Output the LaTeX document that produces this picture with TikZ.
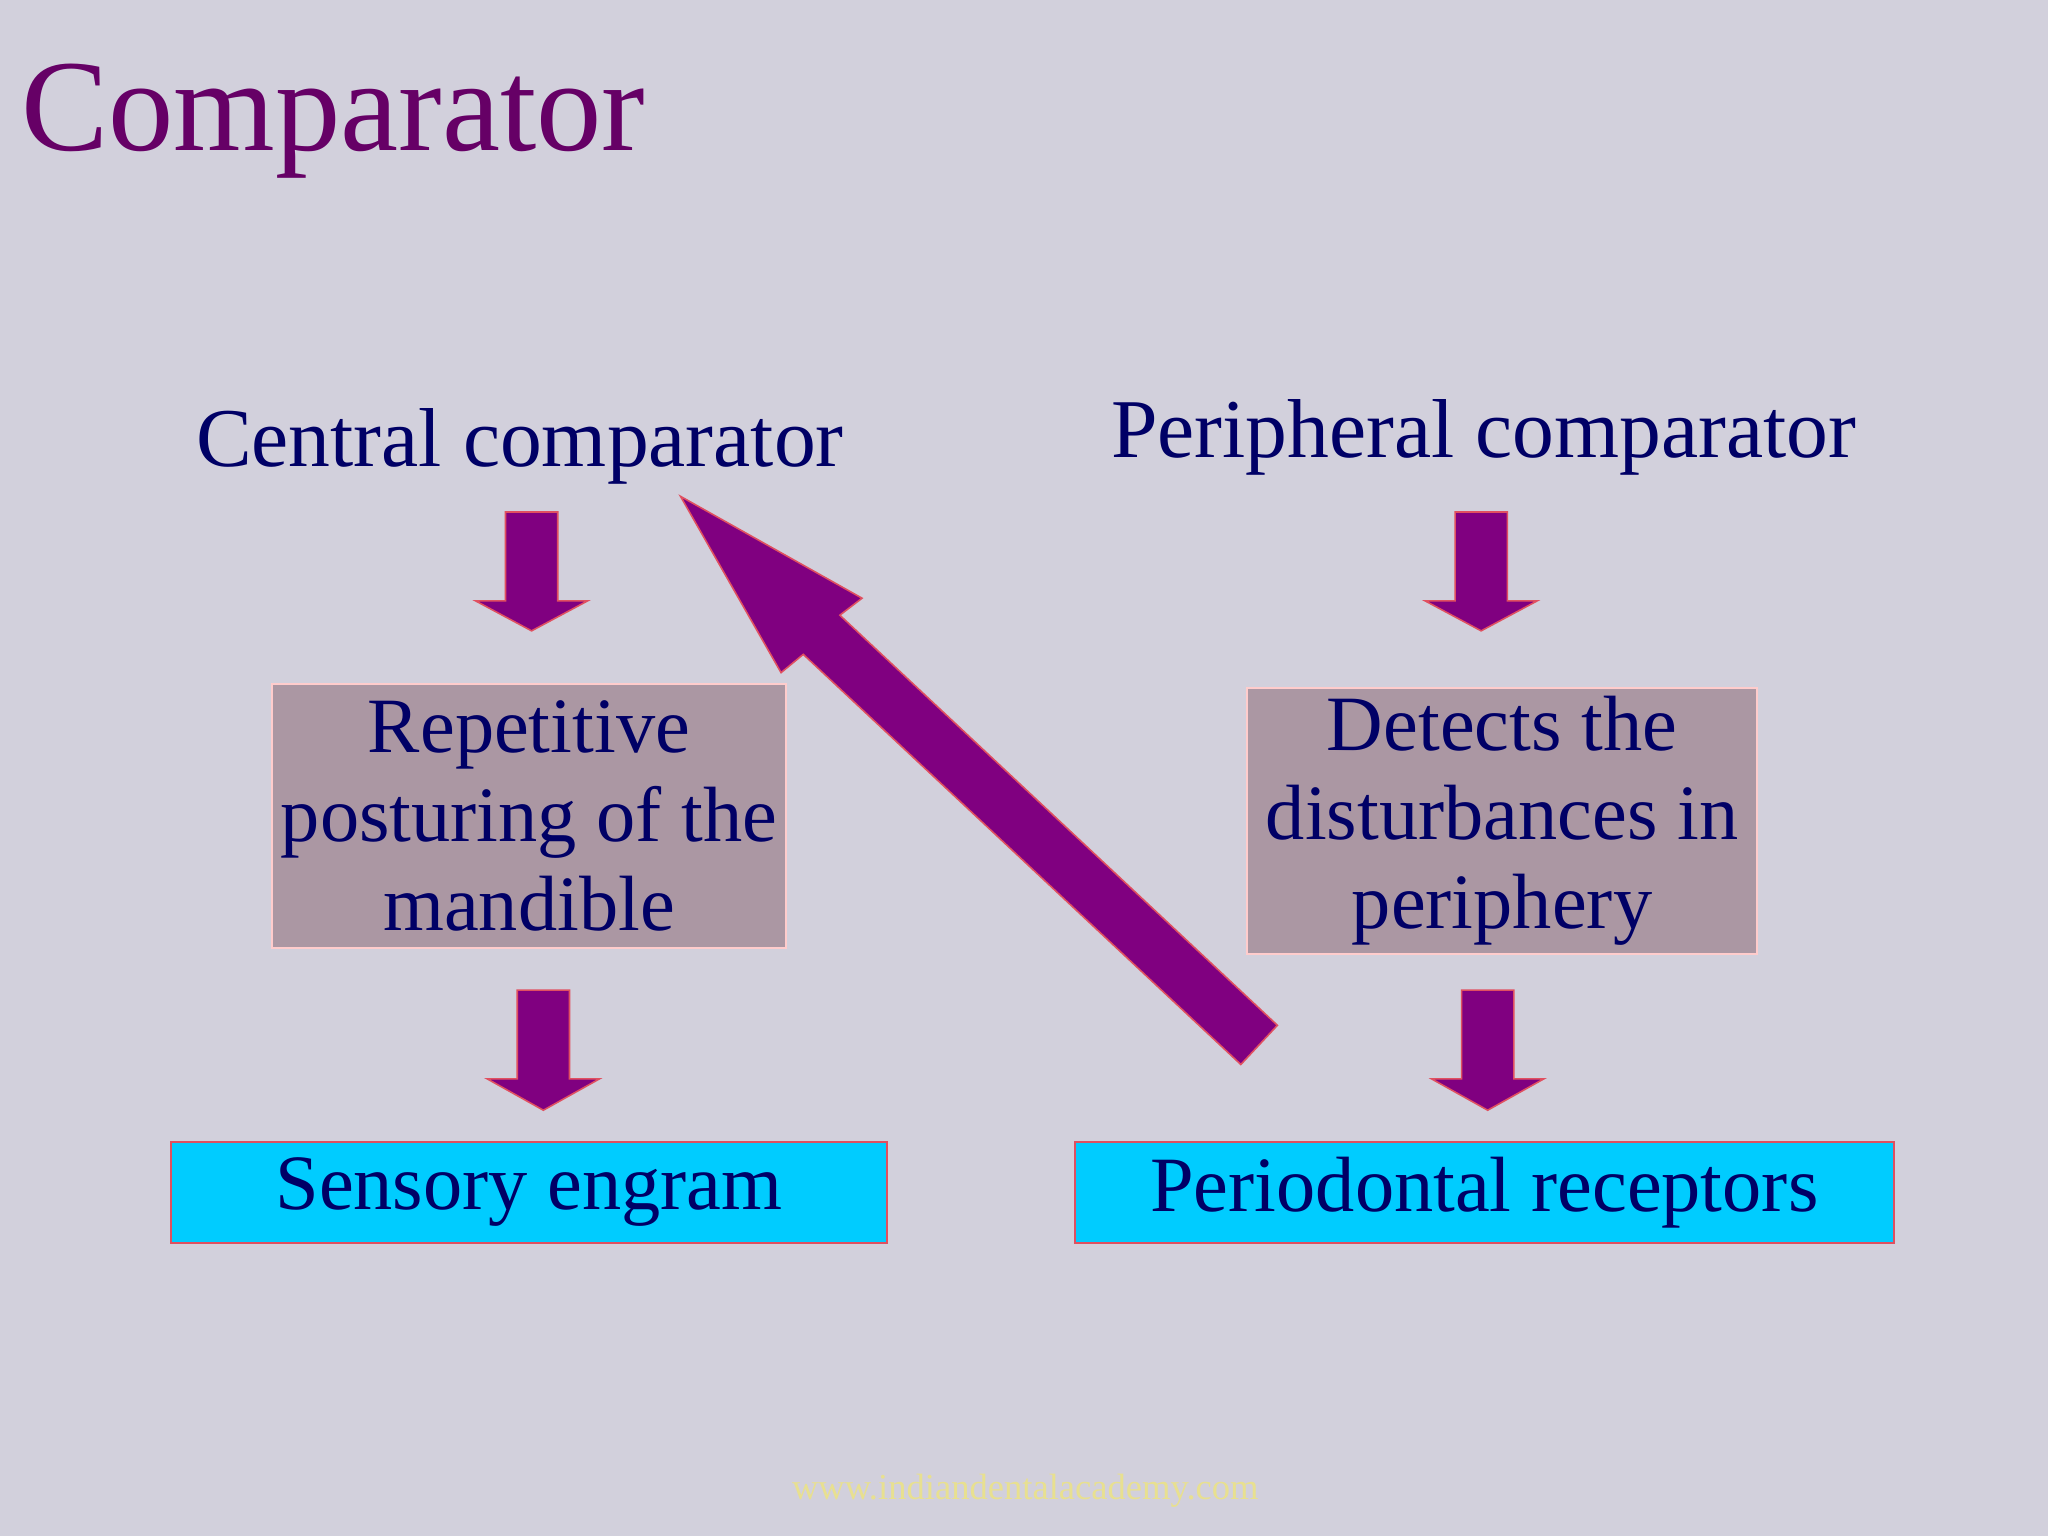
\documentclass[tikz,border=0pt]{standalone}
\usepackage{fontspec}
\setmainfont{Liberation Serif}
\definecolor{bg}{HTML}{D2D0DC}
\definecolor{ttl}{HTML}{660066}
\definecolor{navy}{HTML}{000066}
\definecolor{arr}{HTML}{800080}
\definecolor{arredge}{HTML}{E05060}
\definecolor{mauve}{HTML}{AB97A3}
\definecolor{cyanbox}{HTML}{00CCFF}
\definecolor{foot}{HTML}{E8E090}
\tikzset{
  arrowshape/.style={fill=arr,draw=arredge,line width=0.6pt},
  mbox/.style={draw=pink!80!white,fill=mauve,line width=0.8pt,text=navy,font=\fontsize{30}{34}\selectfont,align=center},
  cbox/.style={draw=arredge,fill=cyanbox,line width=0.8pt,text=navy,font=\fontsize{30}{34}\selectfont},
  heading/.style={text=navy,font=\fontsize{32}{36}\selectfont,anchor=base}
}
% down arrow: x-center, shaft half width, head half width, top y, head base y, tip y
\newcommand\mydownarrow[6]{%
  \fill[arrowshape] (#1-#2,-#4) -- (#1+#2,-#4) -- (#1+#2,-#5) -- (#1+#3,-#5) -- (#1,-#6) -- (#1-#3,-#5) -- (#1-#2,-#5) -- cycle;}
\begin{document}
\begin{tikzpicture}[x=0.5pt,y=0.5pt]
\fill[bg] (0,0) rectangle (1568,-1176);
\useasboundingbox (0,0) rectangle (1568,-1176);
\node[anchor=base west,text=ttl,font=\fontsize{50}{56}\selectfont,inner sep=0] (title) at (16,-115) {Comparator};
\node[heading] (cc) at (398,-357) {Central comparator};
\node[heading] (pc) at (1136,-350) {Peripheral comparator};
\mydownarrow{407}{20}{43}{392}{460}{483}
\mydownarrow{1134}{20}{43}{392}{460}{483}
\mydownarrow{416}{20}{43}{758}{826}{850}
\mydownarrow{1139}{20}{43}{758}{826}{850}
\node[mbox,minimum width=195pt,minimum height=101pt] (rep) at (405,-624.5) {Repetitive\\posturing of the\\mandible};
\node[mbox,minimum width=195pt,minimum height=101pt] (det) at (1150,-628.5) {Detects the\\disturbances in\\periphery};
\node[cbox,minimum width=274pt,minimum height=39pt] (se) at (405,-913) {Sensory engram};
\node[cbox,minimum width=313.5pt,minimum height=39pt] (pr) at (1136.5,-913) {Periodontal receptors};
\fill[arrowshape] (950,-815) -- (978,-785) -- (643,-471) -- (660,-458) -- (521,-380) -- (598,-515) -- (615,-501) -- cycle;
\node[anchor=base,text=foot,font=\fontsize{14}{16}\selectfont] (ft) at (785,-1148) {www.indiandentalacademy.com};
\end{tikzpicture}
\end{document}
